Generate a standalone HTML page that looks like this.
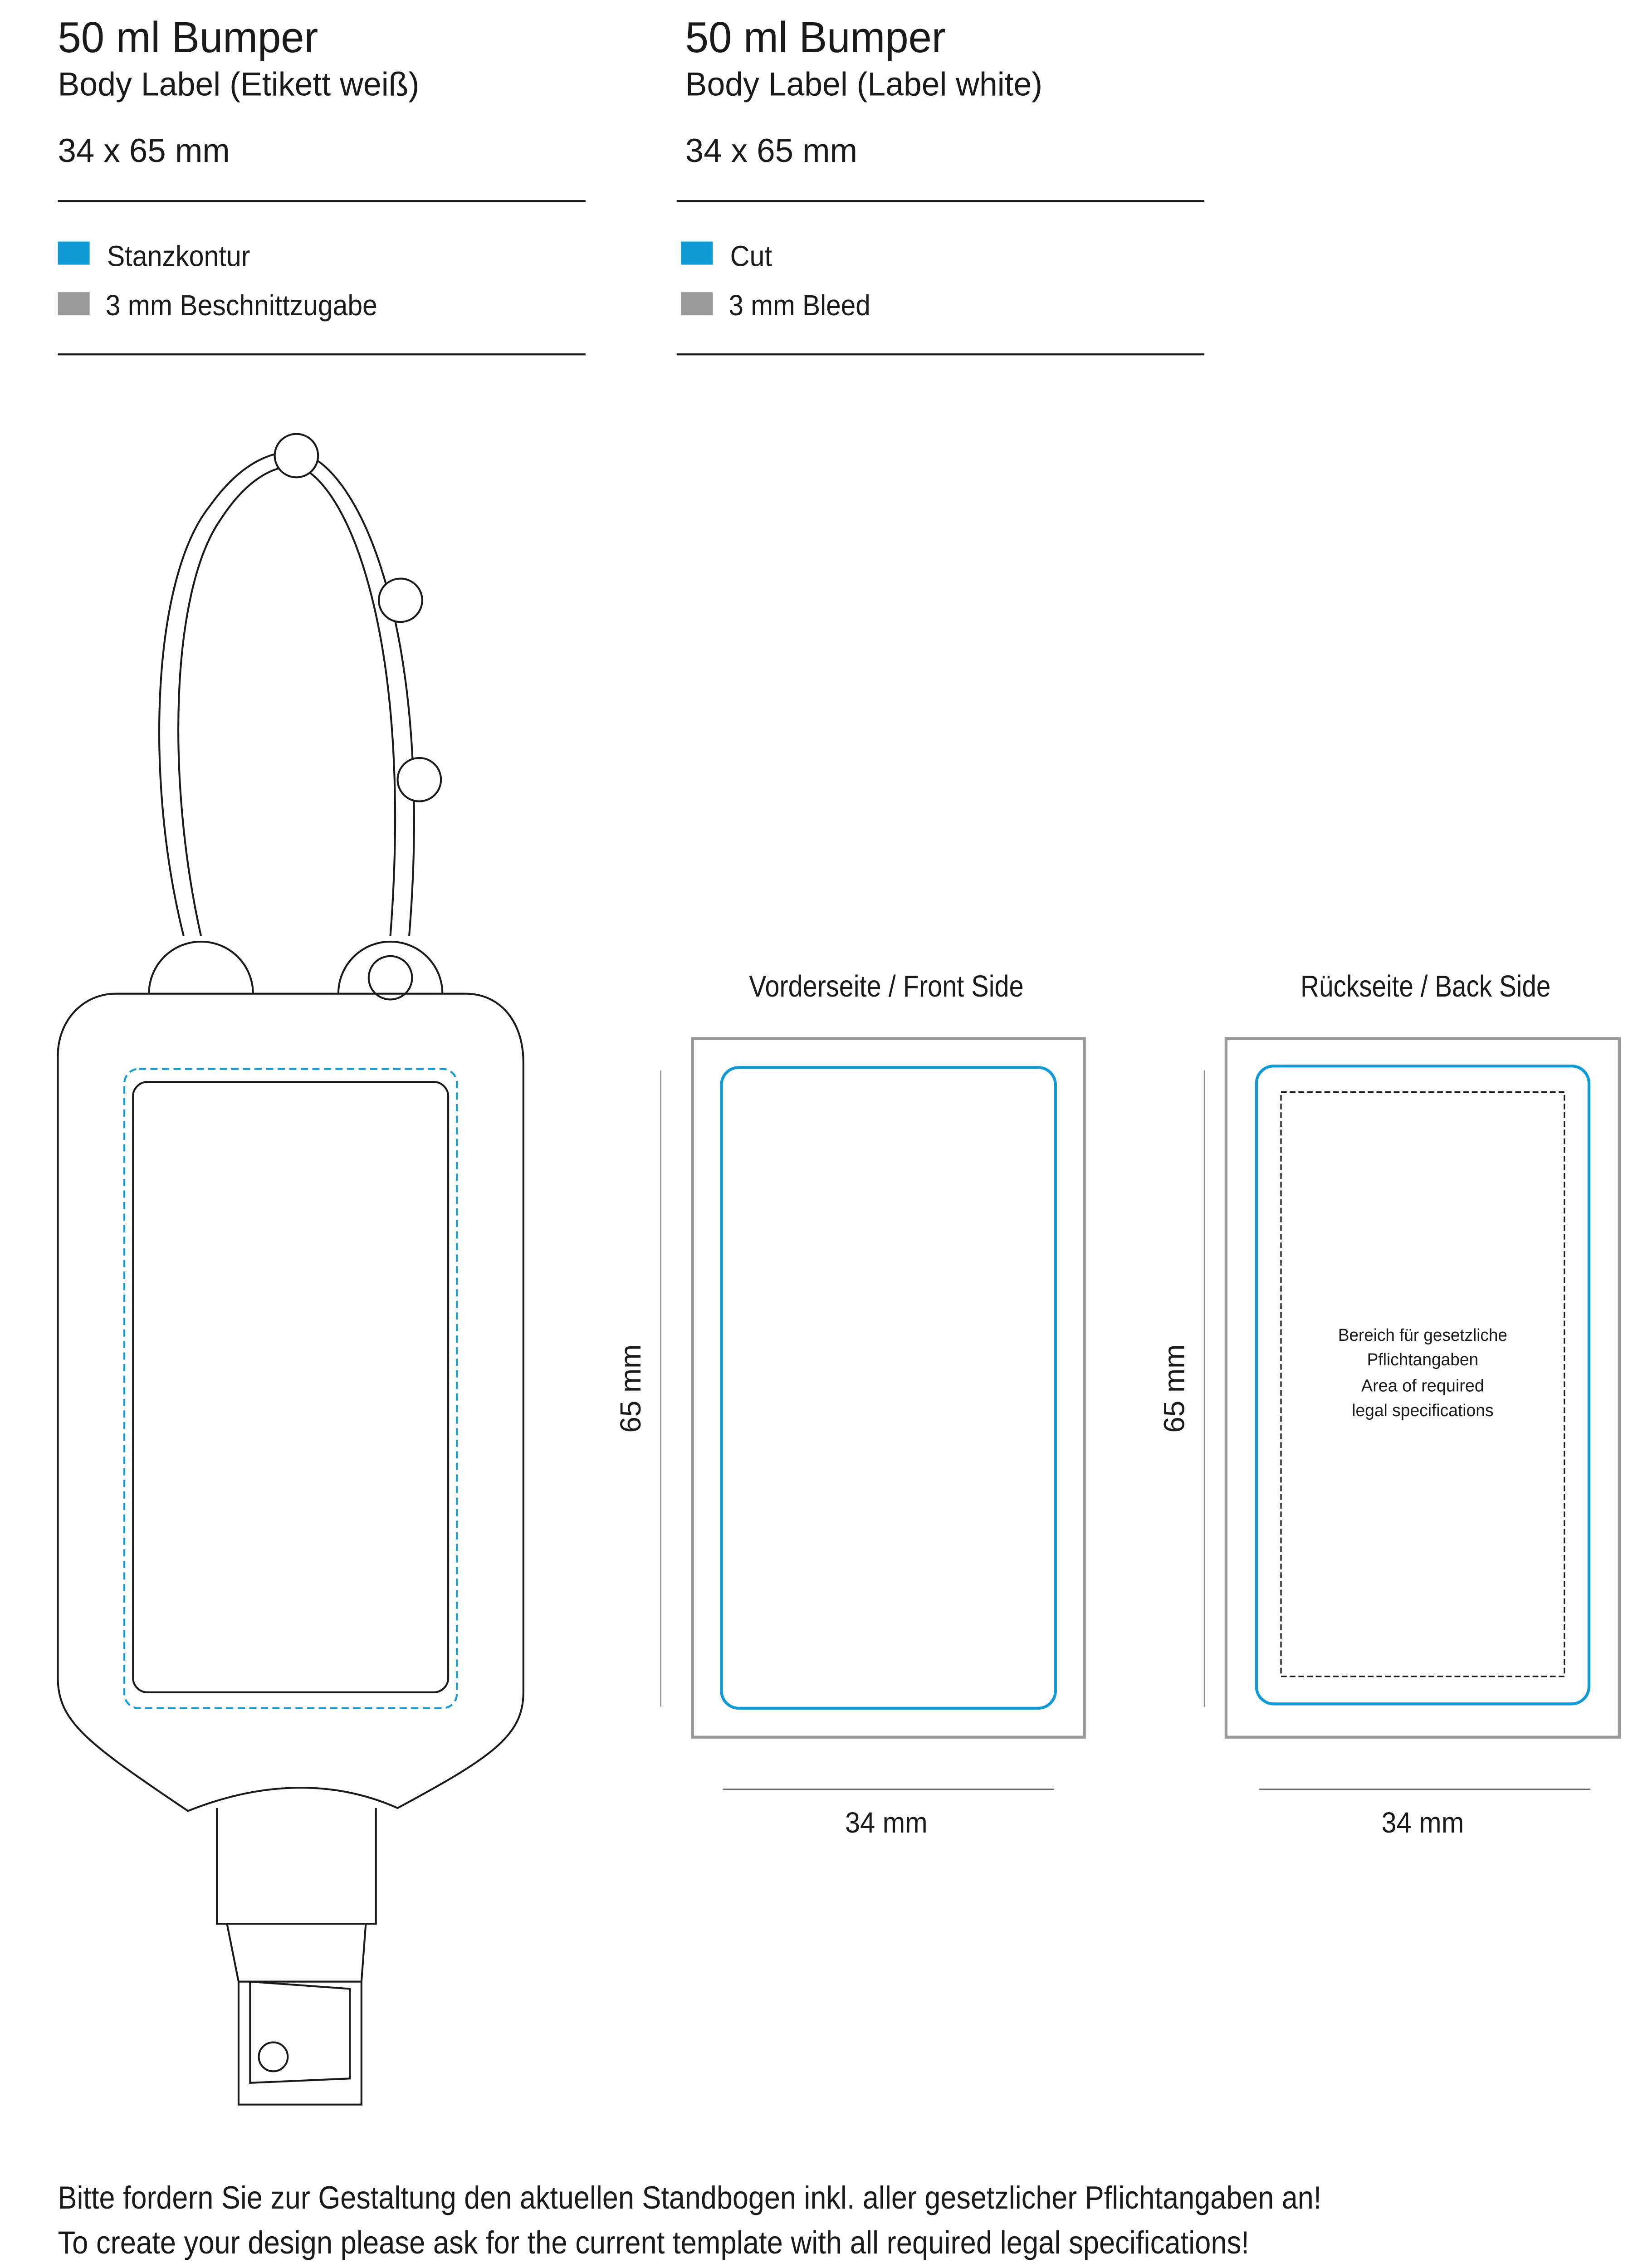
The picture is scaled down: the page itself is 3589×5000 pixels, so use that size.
<!DOCTYPE html>
<html><head><meta charset="utf-8"><style>html,body{margin:0;padding:0;background:#fff}svg{display:block}</style></head>
<body>
<svg width="3589" height="5000" viewBox="0 0 1126 1568" preserveAspectRatio="none" xmlns="http://www.w3.org/2000/svg" font-family="Liberation Sans, sans-serif" fill="#1a1a1a">
<text x="40" y="36" font-size="30" textLength="180" lengthAdjust="spacingAndGlyphs">50 ml Bumper</text>
<text x="40" y="66" font-size="23" textLength="250" lengthAdjust="spacingAndGlyphs">Body Label (Etikett weiß)</text>
<text x="40" y="112" font-size="23" textLength="119" lengthAdjust="spacingAndGlyphs">34 x 65 mm</text>
<line x1="40" y1="139" x2="405" y2="139" stroke="#1a1a1a" stroke-width="1.3"/>
<rect x="40" y="167" width="22" height="16" fill="#0f9ad6"/>
<text x="74" y="184" font-size="20" textLength="99" lengthAdjust="spacingAndGlyphs">Stanzkontur</text>
<rect x="40" y="202" width="22" height="16" fill="#9a9a9a"/>
<text x="73" y="218" font-size="20" textLength="188" lengthAdjust="spacingAndGlyphs">3 mm Beschnittzugabe</text>
<line x1="40" y1="245" x2="405" y2="245" stroke="#1a1a1a" stroke-width="1.3"/>

<text x="474" y="36" font-size="30" textLength="180" lengthAdjust="spacingAndGlyphs">50 ml Bumper</text>
<text x="474" y="66" font-size="23" textLength="247" lengthAdjust="spacingAndGlyphs">Body Label (Label white)</text>
<text x="474" y="112" font-size="23" textLength="119" lengthAdjust="spacingAndGlyphs">34 x 65 mm</text>
<line x1="468" y1="139" x2="833" y2="139" stroke="#1a1a1a" stroke-width="1.3"/>
<rect x="471" y="167" width="22" height="16" fill="#0f9ad6"/>
<text x="505" y="184" font-size="20" textLength="29" lengthAdjust="spacingAndGlyphs">Cut</text>
<rect x="471" y="202" width="22" height="16" fill="#9a9a9a"/>
<text x="504" y="218" font-size="20" textLength="98" lengthAdjust="spacingAndGlyphs">3 mm Bleed</text>
<line x1="468" y1="245" x2="833" y2="245" stroke="#1a1a1a" stroke-width="1.3"/>

<g fill="none" stroke="#1a1a1a" stroke-width="1.3">
<path d="M127 647 C100 540 105 400 145 350 C165 322 185 312 205 312"/>
<path d="M139 647 C115 540 118 410 152 360 C170 332 188 322 205 322"/>
<path d="M205 312 C250 320 300 440 283 647"/>
<path d="M205 322 C240 332 286 440 270 647"/>
<path d="M103 687 A36 36 0 0 1 175 687"/>
<path d="M234 687 A36 36 0 0 1 306 687"/>
<circle cx="205" cy="315" r="15" fill="#fff"/>
<circle cx="277" cy="415" r="15" fill="#fff"/>
<circle cx="290" cy="539" r="15" fill="#fff"/>
<circle cx="270" cy="676" r="15" fill="#fff"/>
<path d="M80 687 L322 687 C345 687 362 705 362 735 L362 1170 C362 1200 340 1215 275 1250 C230 1230 180 1232 130 1252 C60 1205 40 1190 40 1160 L40 730 C40 705 58 687 80 687 Z"/>
<rect x="92" y="748" width="218" height="422" rx="10"/>
<rect x="86" y="739" width="230" height="442" rx="10" stroke="#0f9ad6" stroke-dasharray="5 3"/>
<path d="M150 1250 L150 1330 L260 1330 L260 1250"/>
<path d="M157 1330 L165 1370 L250 1370 L253 1330"/>
<path d="M165 1370 L165 1455 L250 1455 L250 1370"/>
<path d="M173 1370 L173 1440 L242 1437 L242 1375 Z"/>
<circle cx="189" cy="1422" r="10"/>
</g>

<text x="613" y="689" font-size="21" text-anchor="middle" textLength="190" lengthAdjust="spacingAndGlyphs">Vorderseite / Front Side</text>
<rect x="479" y="718" width="271" height="483" fill="none" stroke="#9a9a9a" stroke-width="2"/>
<rect x="499" y="738" width="231" height="443" rx="12" fill="none" stroke="#0f9ad6" stroke-width="2"/>
<line x1="457" y1="740" x2="457" y2="1180" stroke="#888" stroke-width="0.8"/>
<text transform="translate(443,960) rotate(-90)" font-size="20" text-anchor="middle">65 mm</text>
<line x1="500" y1="1237" x2="729" y2="1237" stroke="#555" stroke-width="0.8"/>
<text x="613" y="1267" font-size="20" text-anchor="middle" textLength="57" lengthAdjust="spacingAndGlyphs">34 mm</text>

<text x="986" y="689" font-size="21" text-anchor="middle" textLength="173" lengthAdjust="spacingAndGlyphs">Rückseite / Back Side</text>
<rect x="848" y="718" width="272" height="483" fill="none" stroke="#9a9a9a" stroke-width="2"/>
<rect x="869" y="737" width="230" height="441" rx="12" fill="none" stroke="#0f9ad6" stroke-width="2"/>
<rect x="886" y="755" width="196" height="404" fill="none" stroke="#1a1a1a" stroke-width="1" stroke-dasharray="4 2"/>
<line x1="833" y1="740" x2="833" y2="1180" stroke="#888" stroke-width="0.8"/>
<text transform="translate(819,960) rotate(-90)" font-size="20" text-anchor="middle">65 mm</text>
<line x1="871" y1="1237" x2="1100" y2="1237" stroke="#555" stroke-width="0.8"/>
<text x="984" y="1267" font-size="20" text-anchor="middle" textLength="57" lengthAdjust="spacingAndGlyphs">34 mm</text>
<g font-size="12" text-anchor="middle">
<text x="984" y="927" textLength="117" lengthAdjust="spacingAndGlyphs">Bereich für gesetzliche</text>
<text x="984" y="944" textLength="77" lengthAdjust="spacingAndGlyphs">Pflichtangaben</text>
<text x="984" y="962" textLength="85" lengthAdjust="spacingAndGlyphs">Area of required</text>
<text x="984" y="979" textLength="98" lengthAdjust="spacingAndGlyphs">legal specifications</text>
</g>

<text x="40" y="1527" font-size="22" textLength="874" lengthAdjust="spacingAndGlyphs">Bitte fordern Sie zur Gestaltung den aktuellen Standbogen inkl. aller gesetzlicher Pflichtangaben an!</text>
<text x="40" y="1558" font-size="22" textLength="824" lengthAdjust="spacingAndGlyphs">To create your design please ask for the current template with all required legal specifications!</text>
</svg>
</body></html>
